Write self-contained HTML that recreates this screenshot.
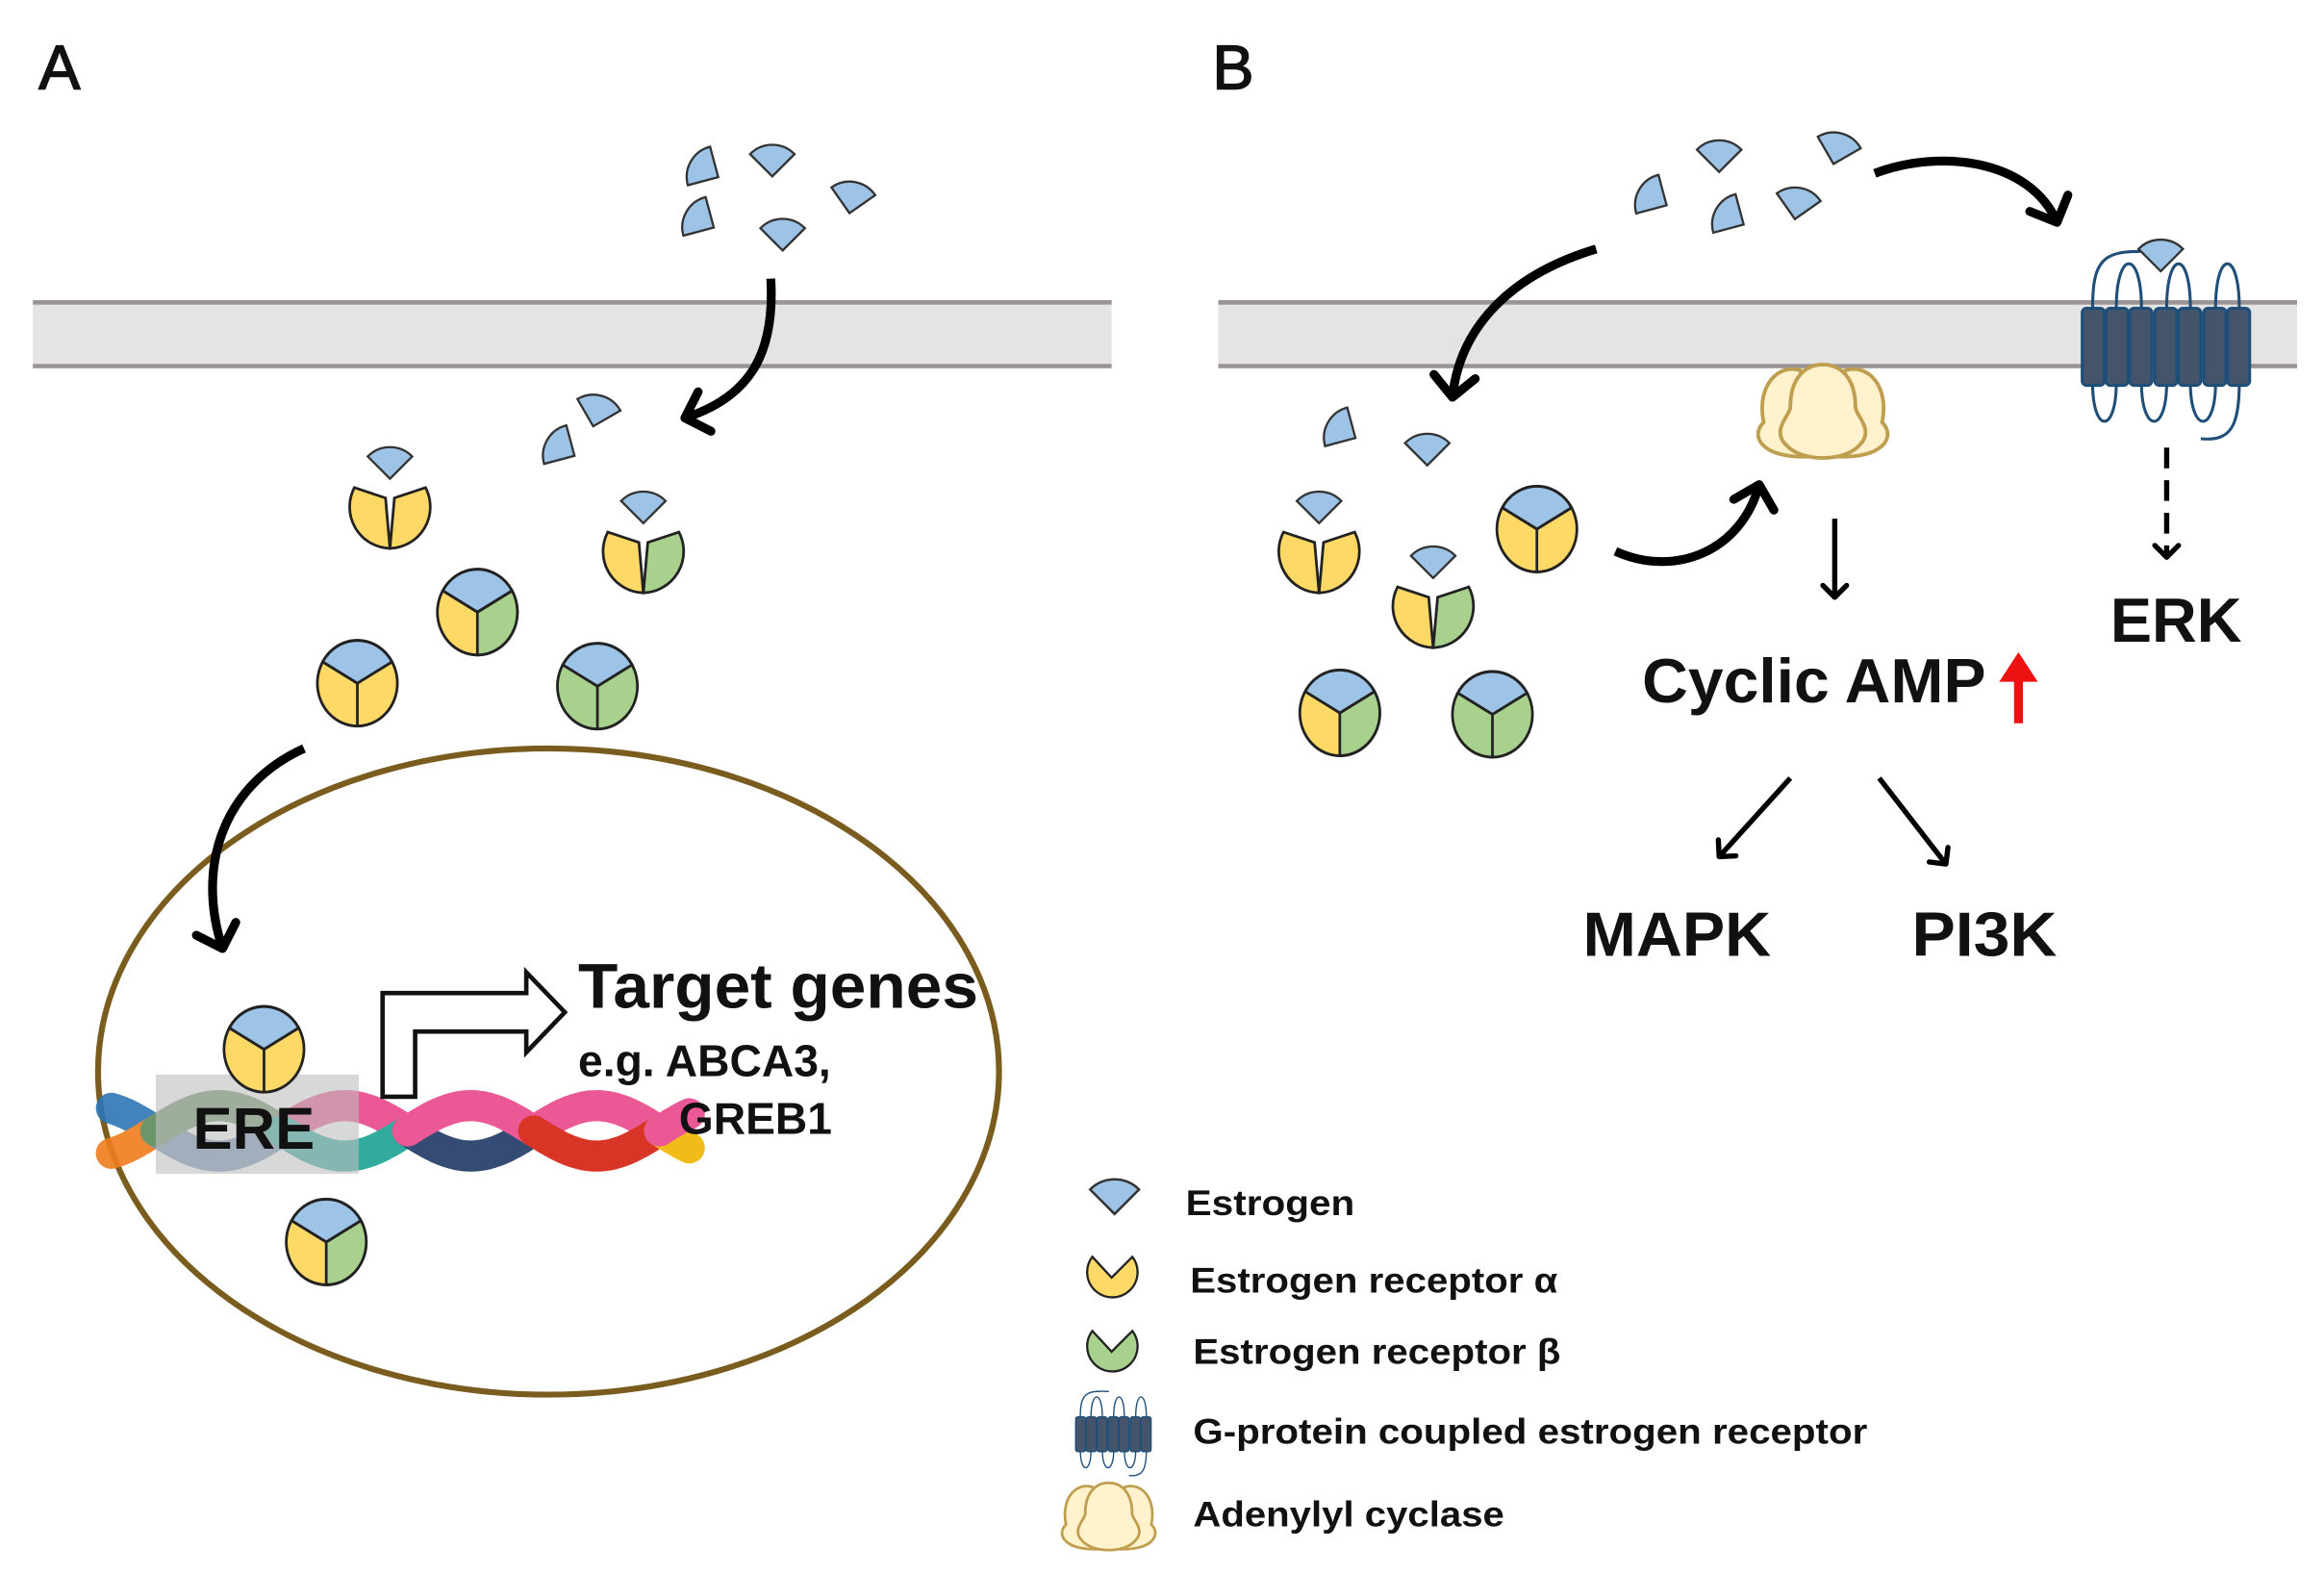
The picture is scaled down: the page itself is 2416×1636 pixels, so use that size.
<!DOCTYPE html>
<html><head><meta charset="utf-8"><style>
html,body{margin:0;padding:0;background:#fff}
svg{display:block}
text{font-family:"Liberation Sans",Arial,sans-serif;font-weight:bold;fill:#111}
</style></head><body>
<svg id="s" width="2416" height="1636" viewBox="0 0 1568 1062" xmlns="http://www.w3.org/2000/svg">
<defs>
<marker id="ch" markerUnits="userSpaceOnUse" markerWidth="40" markerHeight="40" refX="20" refY="20" orient="auto">
<path d="M6,6 L20,20 L6,34" fill="none" stroke="#000" stroke-width="6" stroke-linecap="round" stroke-linejoin="round"/>
</marker>
<marker id="chs" markerUnits="userSpaceOnUse" markerWidth="24" markerHeight="24" refX="12" refY="12" orient="auto">
<path d="M4,4 L12,12 L4,20" fill="none" stroke="#000" stroke-width="3.5" stroke-linecap="round" stroke-linejoin="round"/>
</marker>
<path id="est" d="M0,11 L-15,-4 A21,21 0 0 1 15,-4 Z" fill="#9dc3e6" stroke="#333" stroke-width="1.5"/>
<g id="rYY">
<g transform="scale(1,1.07)">
<circle r="27" fill="#ffd966" stroke="#222" stroke-width="1.8"/>
<path d="M0,0 L-23.4,-13.5 A27,27 0 0 1 23.4,-13.5 Z" fill="#9dc3e6" stroke="#222" stroke-width="1.8"/>
<path d="M0,0 L0,27" stroke="#222" stroke-width="1.8"/>
</g></g>
<g id="rYG">
<g transform="scale(1,1.07)">
<circle r="27" fill="#ffd966" stroke="#222" stroke-width="1.8"/>
<path d="M0,0 L23.4,-13.5 A27,27 0 0 1 0,27 Z" fill="#a9d18e" stroke="#222" stroke-width="1.8"/>
<path d="M0,0 L-23.4,-13.5 A27,27 0 0 1 23.4,-13.5 Z" fill="#9dc3e6" stroke="#222" stroke-width="1.8"/>
</g></g>
<g id="rGG">
<g transform="scale(1,1.07)">
<circle r="27" fill="#a9d18e" stroke="#222" stroke-width="1.8"/>
<path d="M0,0 L-23.4,-13.5 A27,27 0 0 1 23.4,-13.5 Z" fill="#9dc3e6" stroke="#222" stroke-width="1.8"/>
<path d="M0,0 L0,27" stroke="#222" stroke-width="1.8"/>
</g></g>
<g id="oYY">
<path d="M-3,-6 L0,28 A28,28 0 0 1 -24,-13 Z" fill="#ffd966" stroke="#222" stroke-width="1.8"/>
<path d="M3,-6 L24,-13 A28,28 0 0 1 0,28 Z" fill="#ffd966" stroke="#222" stroke-width="1.8"/>
<use href="#est" x="0" y="-30"/>
</g>
<g id="oYG">
<path d="M-3,-6 L0,28 A28,28 0 0 1 -24,-13 Z" fill="#ffd966" stroke="#222" stroke-width="1.8"/>
<path d="M3,-6 L24,-13 A28,28 0 0 1 0,28 Z" fill="#a9d18e" stroke="#222" stroke-width="1.8"/>
<use href="#est" x="0" y="-30"/>
</g>
<g id="ac" stroke="#bf9f4f" stroke-width="2.5" fill="#fff2cc">
<path d="M-8,28 C-40,30 -50,15 -40,5 C-45,-20 -30,-35 -15,-30 Z"/>
<path d="M8,28 C40,30 50,15 40,5 C45,-20 30,-35 15,-30 Z"/>
<path d="M-25,20 C-35,10 -22,0 -22,-5 C-22,-25 -12,-34 0,-34 C12,-34 22,-25 22,-5 C22,0 35,10 25,20 C15,32 -15,32 -25,20 Z"/>
</g>
<g id="gp">
<path d="M2,0 C2,-35 10,-40 45,-38" fill="none" stroke="#1f4e79" stroke-width="2"/>
<path d="M18,0 C18,-40 35,-40 35,0 M52,0 C52,-40 68,-40 68,0 M85,0 C85,-40 101,-40 101,0" fill="none" stroke="#1f4e79" stroke-width="2"/>
<path d="M2,50 C2,85 18,85 18,50 M35,50 C35,85 52,85 52,50 M68,50 C68,85 85,85 85,50 M101,50 C101,80 95,90 75,88" fill="none" stroke="#1f4e79" stroke-width="2"/>
<g fill="#44546a" stroke="#1f4e79" stroke-width="2">
<rect x="-5" y="0" width="15" height="52" rx="3"/><rect x="11" y="0" width="15" height="52" rx="3"/>
<rect x="27" y="0" width="15" height="52" rx="3"/><rect x="44" y="0" width="15" height="52" rx="3"/>
<rect x="60" y="0" width="15" height="52" rx="3"/><rect x="77" y="0" width="15" height="52" rx="3"/>
<rect x="93" y="0" width="15" height="52" rx="3"/>
</g>
</g>
</defs>

<text x="26" y="60" font-size="42" style="font-weight:normal" stroke="#111" stroke-width="1">A</text>
<text x="818" y="60" font-size="42" style="font-weight:normal" stroke="#111" stroke-width="1">B</text>

<rect x="22" y="204" width="728" height="43" fill="#e4e4e4"/>
<line x1="22" y1="204" x2="750" y2="204" stroke="#9a9494" stroke-width="3"/>
<line x1="22" y1="247" x2="750" y2="247" stroke="#9a9494" stroke-width="3"/>
<rect x="822" y="204" width="728" height="43" fill="#e4e4e4"/>
<line x1="822" y1="204" x2="1550" y2="204" stroke="#9a9494" stroke-width="3"/>
<line x1="822" y1="247" x2="1550" y2="247" stroke="#9a9494" stroke-width="3"/>

<use href="#est" transform="translate(475,114) rotate(-60)"/>
<use href="#est" transform="translate(521,108)"/>
<use href="#est" transform="translate(575,133) rotate(10)"/>
<use href="#est" transform="translate(472,148) rotate(-60)"/>
<use href="#est" transform="translate(528,158)"/>
<use href="#est" transform="translate(403,277) rotate(15)"/>
<use href="#est" transform="translate(378,302) rotate(-60)"/>

<path d="M520,188 C523,240 505,268 462,282" fill="none" stroke="#000" stroke-width="6" marker-end="url(#ch)"/>

<use href="#oYY" x="263" y="342"/>
<use href="#oYG" x="434" y="372"/>
<use href="#rYG" x="322" y="413"/>
<use href="#rYY" x="241" y="461"/>
<use href="#rGG" x="403" y="463"/>

<ellipse cx="370" cy="723" rx="304" ry="218" fill="none" stroke="#7a5c1e" stroke-width="4"/>
<path d="M205,505 C150,530 132,585 150,640" fill="none" stroke="#000" stroke-width="6" marker-end="url(#ch)"/>

<g id="dna" stroke-width="21" stroke-linecap="round" fill="none" opacity="0.9"></g>
<rect x="105" y="725" width="137" height="67" fill="rgba(190,190,190,0.6)"/>
<use href="#rYY" x="178" y="708"/>
<text x="130" y="775" font-size="40">ERE</text>

<path d="M258,740 L258,670 L355,670 L355,656 L381,683 L355,710 L355,696 L280,696 L280,740 Z" fill="#fff" stroke="#111" stroke-width="3"/>
<text x="390" y="680" font-size="43" textLength="270" lengthAdjust="spacingAndGlyphs">Target genes</text>
<text x="390" y="726" font-size="30">e.g. ABCA3,</text>
<text x="458" y="765" font-size="30">GREB1</text>
<use href="#rYG" x="220" y="838"/>

<use href="#est" transform="translate(1160,105)"/>
<use href="#est" transform="translate(1240,100) rotate(15)"/>
<use href="#est" transform="translate(1115,133) rotate(-60)"/>
<use href="#est" transform="translate(1167,146) rotate(-60)"/>
<use href="#est" transform="translate(1213,137) rotate(10)"/>
<path d="M1265,117 C1310,100 1370,108 1388,150" fill="none" stroke="#000" stroke-width="6" marker-end="url(#ch)"/>
<path d="M1077,168 C1020,185 985,220 980,268" fill="none" stroke="#000" stroke-width="6" marker-end="url(#ch)"/>

<use href="#gp" x="1410" y="208"/>
<use href="#est" x="1458" y="172"/>
<use href="#ac" x="1230" y="280"/>
<line x1="1462" y1="302" x2="1462" y2="376" stroke="#000" stroke-width="3.5" stroke-dasharray="14,8" marker-end="url(#chs)"/>
<text x="1424" y="433" font-size="42">ERK</text>

<use href="#est" transform="translate(905,290) rotate(-60)"/>
<use href="#est" transform="translate(963,303)"/>
<use href="#oYY" x="890" y="372"/>
<use href="#oYG" x="967" y="409"/>
<use href="#rYY" x="1037" y="357"/>
<use href="#rYG" x="904" y="481"/>
<use href="#rGG" x="1007" y="482"/>
<path d="M1090,372 C1130,390 1175,372 1187,327" fill="none" stroke="#000" stroke-width="6" marker-end="url(#ch)"/>

<line x1="1238" y1="350" x2="1238" y2="403" stroke="#000" stroke-width="3.5" marker-end="url(#chs)"/>
<text x="1108" y="474" font-size="42" textLength="232" lengthAdjust="spacingAndGlyphs">Cyclic AMP</text>
<line x1="1362" y1="488" x2="1362" y2="452" stroke="#ee1111" stroke-width="6"/>
<path d="M1349,460 L1362,440 L1375,460 Z" fill="#ee1111"/>
<line x1="1208" y1="525" x2="1160" y2="578" stroke="#000" stroke-width="3.5" marker-end="url(#chs)"/>
<line x1="1268" y1="525" x2="1313" y2="583" stroke="#000" stroke-width="3.5" marker-end="url(#chs)"/>
<text x="1068" y="645" font-size="42" textLength="127" lengthAdjust="spacingAndGlyphs">MAPK</text>
<text x="1290" y="645" font-size="42" textLength="98" lengthAdjust="spacingAndGlyphs">PI3K</text>

<use href="#est" transform="translate(752,807) scale(1.1)"/>
<text x="800" y="820" font-size="24" textLength="114" lengthAdjust="spacingAndGlyphs">Estrogen</text>
<path d="M737,848 L750,862 L764,848 A17,17 0 1 1 737,848 Z" fill="#ffd966" stroke="#222" stroke-width="1.5"/>
<text x="803" y="872" font-size="24" textLength="248" lengthAdjust="spacingAndGlyphs">Estrogen receptor α</text>
<path d="M737,898 L750,912 L764,898 A17,17 0 1 1 737,898 Z" fill="#a9d18e" stroke="#222" stroke-width="1.5"/>
<text x="805" y="920" font-size="24" textLength="248" lengthAdjust="spacingAndGlyphs">Estrogen receptor β</text>
<use href="#gp" transform="translate(728,956) scale(0.45)"/>
<text x="805" y="974" font-size="24" textLength="455" lengthAdjust="spacingAndGlyphs">G-protein coupled estrogen receptor</text>
<use href="#ac" transform="translate(748,1025) scale(0.72)"/>
<text x="805" y="1030" font-size="24" textLength="210" lengthAdjust="spacingAndGlyphs">Adenylyl cyclase</text>
</svg>
<script>
(function(){
var g=document.getElementById('dna');
var xs=[75,105,190,275,360,445,465];
var c1=['#2e75b6','#6a8caf','#e8488a','#1f3864','#e8488a','#f0b400'];
var c2=['#f07c1c','#5f8a5a','#1aa394','#e8488a','#d42010','#e8488a'];
function pts(a,b,s){var p=[];for(var x=a;x<=b;x+=2){p.push(x+','+(763+s*17*Math.sin(Math.PI*(x-105)/85)).toFixed(1));}return p.join(' ');}
for(var i=0;i<xs.length-1;i++){
 [[c1,1],[c2,-1]].forEach(function(q){
  var e=document.createElementNS('http://www.w3.org/2000/svg','polyline');
  e.setAttribute('points',pts(xs[i],xs[i+1],q[1]));
  e.setAttribute('stroke',q[0][i]);
  g.appendChild(e);
 });
}
})();
</script>
</body></html>
